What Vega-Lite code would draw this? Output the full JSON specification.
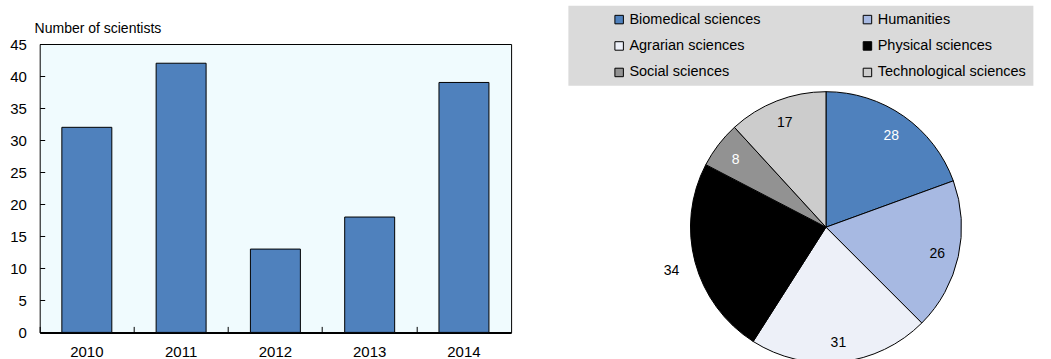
{
  "$schema": "https://vega.github.io/schema/vega-lite/v6.json",
  "padding": {"left": 8.7, "top": 5, "right": 0, "bottom": 0},
  "bounds": "flush",
  "spacing": 178.8,
  "config": {
    "font": "Liberation Sans",
    "view": {"stroke": null},
    "axis": {
      "labelFont": "Liberation Sans",
      "labelColor": "#000000",
      "titleFont": "Liberation Sans",
      "titleColor": "#000000",
      "titleFontWeight": "normal"
    },
    "legend": {
      "labelFont": "Liberation Sans",
      "labelColor": "#000000"
    }
  },
  "hconcat": [
    {
      "width": 471.4,
      "height": 288.4,
      "view": {"fill": "#F0FBFE", "stroke": "#000000", "strokeWidth": 1},
      "data": {
        "values": [
          {"year": "2010", "scientists": 32},
          {"year": "2011", "scientists": 42},
          {"year": "2012", "scientists": 13},
          {"year": "2013", "scientists": 18},
          {"year": "2014", "scientists": 39}
        ]
      },
      "mark": {"type": "bar", "fill": "#4F81BD", "stroke": "#000000", "strokeWidth": 1},
      "encoding": {
        "x": {
          "field": "year",
          "type": "ordinal",
          "scale": {"paddingInner": 0.47, "paddingOuter": 0.235},
          "axis": {
            "title": null,
            "labelAngle": 0,
            "labelFontSize": 15,
            "labelPadding": 18,
            "bandPosition": -0.443,
            "tickSize": -6,
            "tickColor": "#000000",
            "domainColor": "#000000",
            "domainWidth": 2
          }
        },
        "y": {
          "field": "scientists",
          "type": "quantitative",
          "scale": {"domain": [0, 45], "nice": false},
          "axis": {
            "values": [0, 5, 10, 15, 20, 25, 30, 35, 40, 45],
            "grid": false,
            "domain": false,
            "tickSize": -5,
            "tickColor": "#000000",
            "labelFontSize": 15,
            "labelPadding": 18.3,
            "title": "Number of scientists",
            "titleFontSize": 14,
            "titleAngle": 0,
            "titleAlign": "left",
            "titleBaseline": "alphabetic",
            "titleX": -5.6,
            "titleY": -12
          }
        }
      }
    },
    {
      "width": 271,
      "height": 366.4,
      "view": {"stroke": null},
      "data": {
        "values": [
          {"discipline": "Biomedical sciences", "scientists": 28},
          {"discipline": "Humanities", "scientists": 26},
          {"discipline": "Agrarian sciences", "scientists": 31},
          {"discipline": "Physical sciences", "scientists": 34},
          {"discipline": "Social sciences", "scientists": 8},
          {"discipline": "Technological sciences", "scientists": 17}
        ]
      },
      "transform": [
        {
          "calculate": "indexof(['Biomedical sciences', 'Humanities', 'Agrarian sciences', 'Physical sciences', 'Social sciences', 'Technological sciences'], datum.discipline)",
          "as": "rank"
        }
      ],
      "encoding": {
        "theta": {"field": "scientists", "type": "quantitative", "stack": true},
        "order": {"field": "rank", "type": "quantitative"}
      },
      "layer": [
        {
          "mark": {"type": "arc", "outerRadius": 135.5, "stroke": "#000000", "strokeWidth": 1},
          "encoding": {
            "color": {
              "field": "discipline",
              "type": "nominal",
              "scale": {
                "domain": ["Biomedical sciences", "Humanities", "Agrarian sciences", "Physical sciences", "Social sciences", "Technological sciences"],
                "range": ["#4F81BD", "#A7B9E2", "#EDF0F8", "#000000", "#929292", "#CCCCCC"]
              },
              "legend": {
                "orient": "none",
                "legendX": 528.7,
                "legendY": -38.3,
                "title": null,
                "direction": "horizontal",
                "columns": 2,
                "symbolType": "square",
                "symbolSize": 72,
                "symbolStrokeColor": "#000000",
                "symbolStrokeWidth": 1,
                "symbolOffset": 37,
                "labelOffset": 3,
                "labelFontSize": 14.5,
                "fillColor": "#DADADA",
                "padding": 6.5,
                "rowPadding": 11.5,
                "columnPadding": 62.3
              }
            }
          }
        },
        {
          "mark": {"type": "text", "radius": 114, "fontSize": 14, "dy": 2, "font": "Liberation Sans"},
          "encoding": {
            "detail": {"field": "discipline", "type": "nominal"},
            "text": {
              "condition": {"test": "datum.discipline === 'Physical sciences'", "value": ""},
              "field": "scientists",
              "type": "quantitative"
            },
            "color": {
              "condition": {"test": "datum.discipline === 'Biomedical sciences' || datum.discipline === 'Social sciences'", "value": "#FFFFFF"},
              "value": "#000000"
            }
          }
        },
        {
          "mark": {"type": "text", "radius": 160, "fontSize": 14, "dy": 2, "font": "Liberation Sans"},
          "encoding": {
            "detail": {"field": "discipline", "type": "nominal"},
            "text": {
              "condition": {"test": "datum.discipline !== 'Physical sciences'", "value": ""},
              "field": "scientists",
              "type": "quantitative"
            },
            "color": {"value": "#000000"}
          }
        }
      ]
    }
  ]
}
